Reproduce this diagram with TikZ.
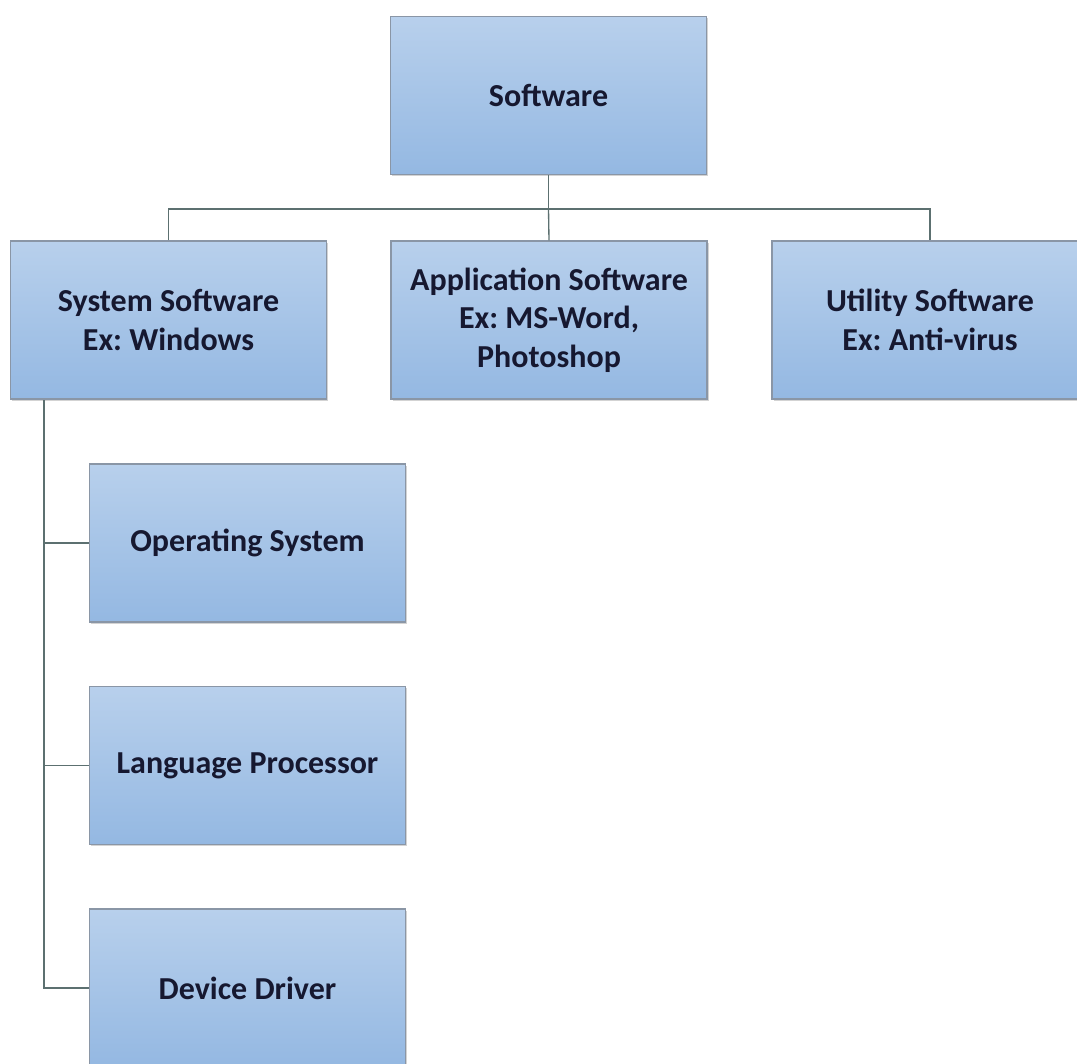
\documentclass[tikz,border=0pt]{standalone}
\usepackage{fontspec}
\setmainfont{Carlito}
\usepackage{xcolor}
\usetikzlibrary{shadows}
\frenchspacing

\definecolor{boxtop}{RGB}{184,208,236}
\definecolor{boxbot}{RGB}{148,184,226}
\definecolor{boxline}{RGB}{138,150,166}
\definecolor{wire}{RGB}{92,112,112}
\definecolor{ink}{RGB}{22,24,48}

\tikzset{
  sbox/.style={rectangle, draw=boxline, line width=1pt,
    top color=boxtop, bottom color=boxbot,
    drop shadow={shadow xshift=1.2pt, shadow yshift=-1.2pt, opacity=0.35},
    minimum width=237pt, minimum height=118.5pt, inner sep=0pt,
    align=center, text=ink,
    font=\fontsize{24}{29}\selectfont\bfseries},
  wireline/.style={draw=wire, line width=1pt}
}

\begin{document}
\begin{tikzpicture}[x=0.75pt,y=0.75pt,yscale=-1,xscale=1]
\path[use as bounding box] (0,0) rectangle (1077,1063);

% Text Node
\node[sbox] (soft) at (548.5,95.5) {Software};
% Text Node
\node[sbox] (sys) at (168.5,320) {System Software\\Ex: Windows};
% Text Node
\node[sbox] (app) at (549,320) {Application Software\\Ex: MS-Word,\\Photoshop};
% Text Node
\node[sbox] (util) at (930,320) {Utility Software\\Ex: Anti-virus};
% Text Node
\node[sbox] (os) at (247.5,543) {Operating System};
% Text Node
\node[sbox] (lp) at (247.5,765.5) {Language Processor};
% Text Node
\node[sbox] (dd) at (247.5,988) {Device Driver};

%Straight Lines
\coordinate (bus) at (548.5,209);
\coordinate (trunk) at (44,400);
\draw[wireline] (soft.south) -- (bus);
\draw[wireline] (sys.north) |- (bus) -| (util.north);
\draw[wireline] (bus) -- (app.north);
\draw[wireline] (trunk) |- (os.west);
\draw[wireline] (trunk) |- (lp.west);
\draw[wireline] (trunk) |- (dd.west);

\end{tikzpicture}
\end{document}
